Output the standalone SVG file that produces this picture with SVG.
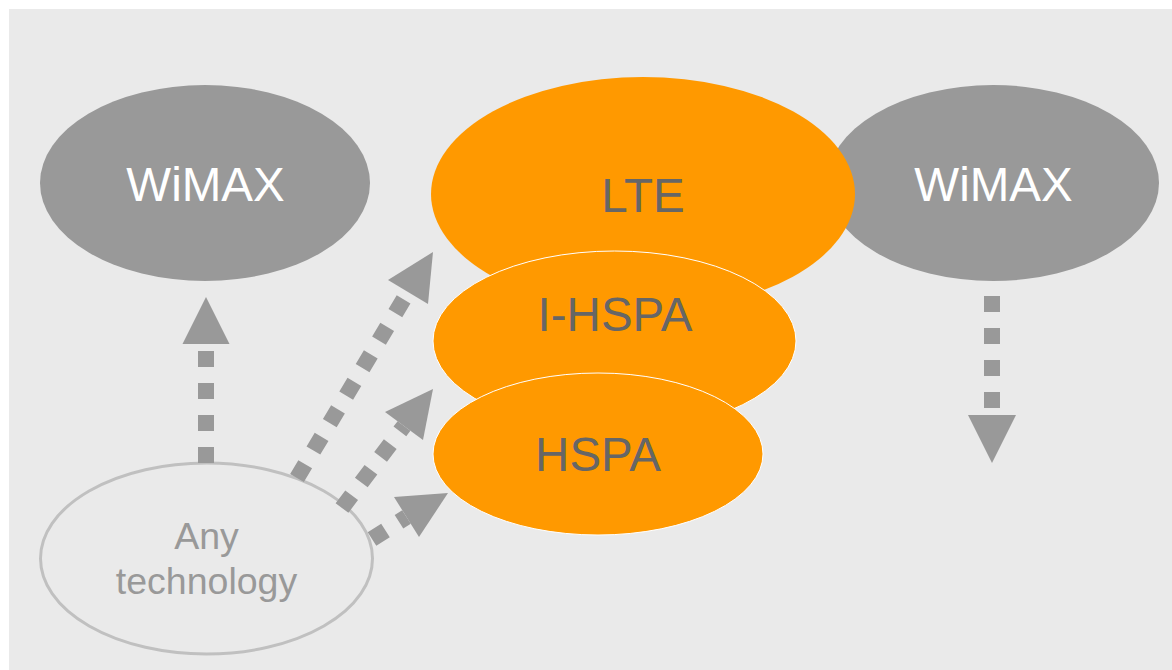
<svg xmlns="http://www.w3.org/2000/svg" width="1172" height="670" viewBox="0 0 1172 670">
<style>
.big{font-family:"Liberation Sans",Arial,sans-serif;font-size:47.5px;text-anchor:middle}
.w{fill:#ffffff}
.d{fill:#666666}
.small{font-family:"Liberation Sans",Arial,sans-serif;font-size:37.5px;text-anchor:middle;fill:#999999}
.gray{fill:#999999}
.org{fill:#ff9900}
.dash{stroke:#999999;stroke-width:16;stroke-dasharray:16 16;fill:none;stroke-linecap:butt}
.head{fill:#999999}
</style>
<rect x="9" y="9" width="1163" height="661" fill="#eaeaea"/>
<g id="wimax-left">
<ellipse class="gray" cx="205" cy="183" rx="165" ry="98"/>
<text class="big w" x="205.5" y="201">WiMAX</text>
</g>
<g id="wimax-right">
<ellipse class="gray" cx="993" cy="183" rx="166" ry="98"/>
<text class="big w" x="993.5" y="201">WiMAX</text>
</g>
<g id="lte">
<ellipse class="org" cx="643" cy="194" rx="212" ry="117"/>
<text class="big d" x="643" y="212">LTE</text>
</g>
<g id="ihspa">
<ellipse class="org" cx="614.5" cy="341" rx="181.5" ry="90" stroke="#ffffff" stroke-width="1"/>
<text class="big d" x="615" y="331">I-HSPA</text>
</g>
<g id="hspa">
<ellipse class="org" cx="598" cy="454" rx="165" ry="81" stroke="#ffffff" stroke-width="1"/>
<text class="big d" x="598" y="471">HSPA</text>
</g>
<g id="any">
<ellipse cx="206.5" cy="558.5" rx="166" ry="95.5" fill="none" stroke="#c0c0c0" stroke-width="3"/>
<text class="small" x="206.5" y="549">Any</text>
<text class="small" x="206.5" y="594">technology</text>
</g>
<g id="connectors">
<line class="dash" x1="206" y1="463" x2="206" y2="344"/>
<polygon class="head" points="206,297 229.5,344 182.5,344"/>
<line class="dash" x1="992" y1="296" x2="992" y2="415"/>
<polygon class="head" points="992,463 1016,415 968,415"/>
<line class="dash" x1="297" y1="478" x2="408" y2="292"/>
<polygon class="head" points="433,252 388,280 428,304"/>
<line class="dash" x1="342" y1="508" x2="404" y2="426"/>
<polygon class="head" points="433,389 385,412 423,440"/>
<line class="dash" x1="372" y1="539" x2="406.5" y2="517"/>
<polygon class="head" points="448,493 394,497 419,537"/>
</g>
</svg>
